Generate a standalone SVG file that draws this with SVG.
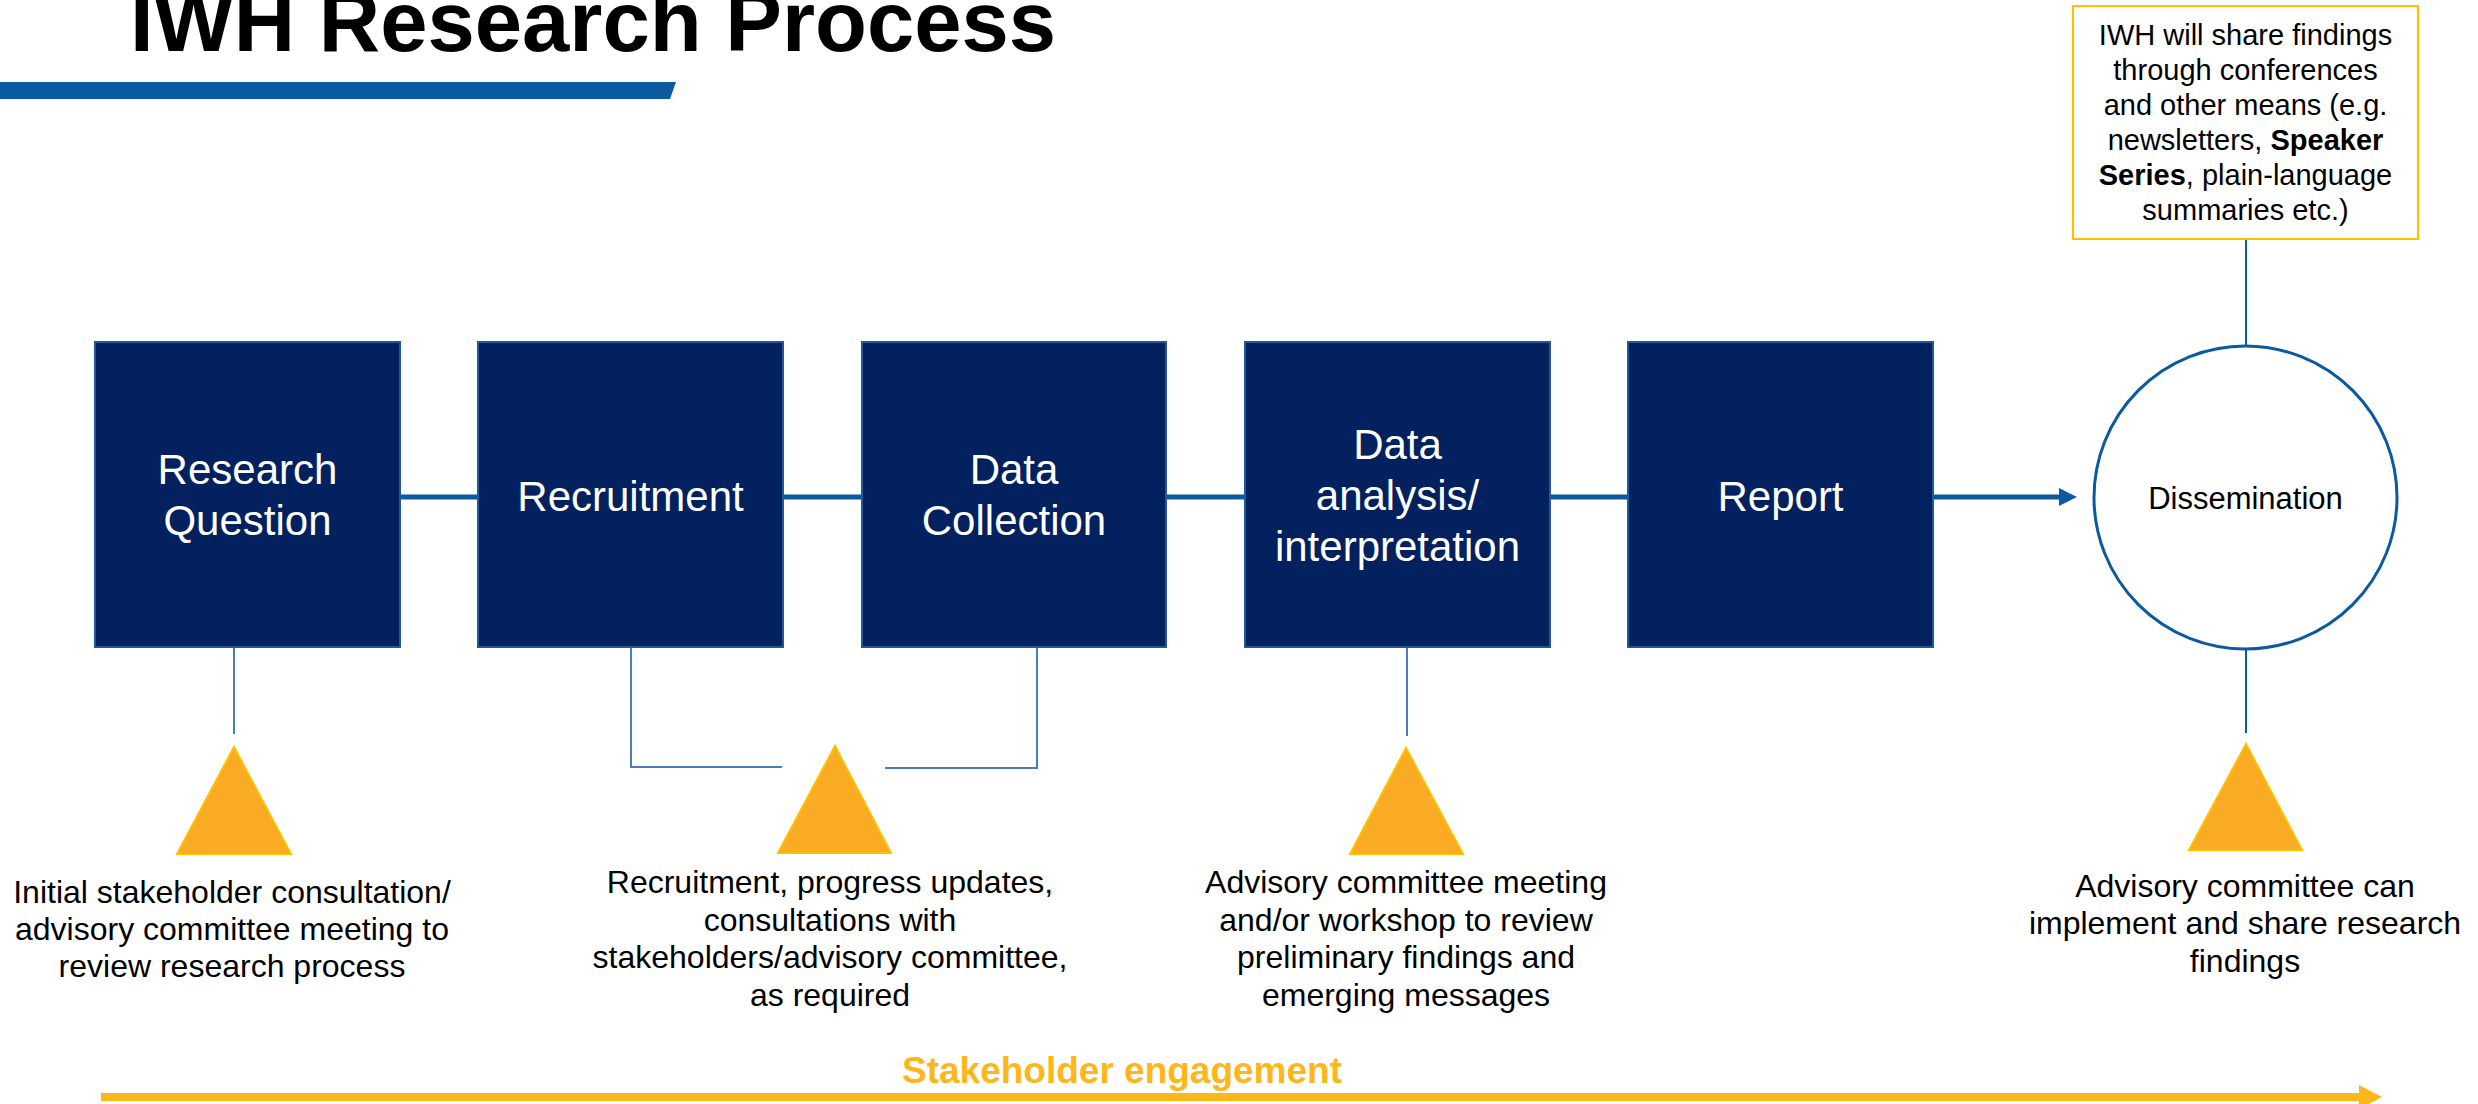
<svg xmlns="http://www.w3.org/2000/svg" width="2478" height="1104" viewBox="0 0 2478 1104">
<style>
.box{fill:#02215E;stroke:#1F5A96;stroke-width:2}
.bt{font-family:"Liberation Sans",Arial,sans-serif;font-size:42px;fill:#FFFFFF;text-anchor:middle}
.desc{font-family:"Liberation Sans",Arial,sans-serif;font-size:32px;fill:#000000;text-anchor:middle}
.note{font-family:"Liberation Sans",Arial,sans-serif;font-size:29px;fill:#000000;text-anchor:middle}
.tri{fill:#F9AC23;stroke:#FFC000;stroke-width:2}
.main{stroke:#0B5AA0;stroke-width:5;fill:none}
.thin{stroke:#4A7EBB;stroke-width:2;fill:none}
.thind{stroke:#0B5AA0;stroke-width:2;fill:none}
</style>
<defs>
<marker id="blueHead" markerUnits="userSpaceOnUse" viewBox="0 0 18 18" refX="6" refY="9" markerWidth="18" markerHeight="18" orient="auto">
<path d="M0,0 L18,9 L0,18 z" fill="#0B5AA0"/>
</marker>
<marker id="yellowHead" markerUnits="userSpaceOnUse" viewBox="0 0 23 24" refX="6" refY="12" markerWidth="23" markerHeight="24" orient="auto">
<path d="M0,0 L23,12 L0,24 z" fill="#FDB71A"/>
</marker>
</defs>
<rect width="2478" height="1104" fill="#FFFFFF"/>
<g id="title">
<text x="130" y="51" font-family="'Liberation Sans',Arial,sans-serif" font-size="85" font-weight="bold" fill="#000000">IWH Research Process</text>
<polygon points="0,82 676,82 670,99 0,99" fill="#0B5AA0"/>
</g>
<g id="connectors">
<line class="main" x1="400" y1="497" x2="478" y2="497"/>
<line class="main" x1="783" y1="497" x2="862" y2="497"/>
<line class="main" x1="1166" y1="497" x2="1245" y2="497"/>
<line class="main" x1="1550" y1="497" x2="1628" y2="497"/>
<line class="main" x1="1933" y1="497" x2="2065" y2="497" marker-end="url(#blueHead)"/>
<line class="thin" x1="234" y1="647" x2="234" y2="734"/>
<polyline class="thin" points="631,647 631,767 782,767"/>
<polyline class="thin" points="1037,647 1037,768 885,768"/>
<line class="thin" x1="1407" y1="647" x2="1407" y2="736"/>
<line class="thind" x1="2246" y1="239" x2="2246" y2="346"/>
<line class="thind" x1="2246" y1="649" x2="2246" y2="733"/>
<line x1="101" y1="1097" x2="2365" y2="1097" stroke="#FDB71A" stroke-width="8" marker-end="url(#yellowHead)"/>
</g>
<g id="n-research-question">
<rect class="box" x="95" y="342" width="305" height="305"/>
<text class="bt" x="247.5" y="484">Research</text>
<text class="bt" x="247.5" y="535">Question</text>
</g>
<g id="n-recruitment">
<rect class="box" x="478" y="342" width="305" height="305"/>
<text class="bt" x="630.5" y="511">Recruitment</text>
</g>
<g id="n-data-collection">
<rect class="box" x="862" y="342" width="304" height="305"/>
<text class="bt" x="1014" y="484">Data</text>
<text class="bt" x="1014" y="535">Collection</text>
</g>
<g id="n-data-analysis">
<rect class="box" x="1245" y="342" width="305" height="305"/>
<text class="bt" x="1397.5" y="459">Data</text>
<text class="bt" x="1397.5" y="510">analysis/</text>
<text class="bt" x="1397.5" y="561">interpretation</text>
</g>
<g id="n-report">
<rect class="box" x="1628" y="342" width="305" height="305"/>
<text class="bt" x="1780.5" y="511">Report</text>
</g>
<g id="n-dissemination">
<circle cx="2245.5" cy="497.5" r="151.5" fill="#FFFFFF" stroke="#0B5AA0" stroke-width="3"/>
<text x="2245.5" y="509" font-family="'Liberation Sans',Arial,sans-serif" font-size="31" fill="#000000" text-anchor="middle">Dissemination</text>
</g>
<g id="n-share-note">
<rect x="2073" y="6" width="345" height="233" fill="#FFFFFF" stroke="#FFC000" stroke-width="2"/>
<text class="note" x="2245.5" y="45">IWH will share findings</text>
<text class="note" x="2245.5" y="80">through conferences</text>
<text class="note" x="2245.5" y="115">and other means (e.g.</text>
<text class="note" x="2245.5" y="150">newsletters, <tspan font-weight="bold">Speaker</tspan></text>
<text class="note" x="2245.5" y="185"><tspan font-weight="bold">Series</tspan>, plain-language</text>
<text class="note" x="2245.5" y="220">summaries etc.)</text>
</g>
<g id="n-engage-1">
<polygon class="tri" points="234,747 177,854 291,854"/>
<text class="desc" x="232" y="903">Initial stakeholder consultation/</text>
<text class="desc" x="232" y="940">advisory committee meeting to</text>
<text class="desc" x="232" y="977">review research process</text>
</g>
<g id="n-engage-2">
<polygon class="tri" points="835,746 778,853 891,853"/>
<text class="desc" x="830" y="893">Recruitment, progress updates,</text>
<text class="desc" x="830" y="931">consultations with</text>
<text class="desc" x="830" y="968">stakeholders/advisory committee,</text>
<text class="desc" x="830" y="1006">as required</text>
</g>
<g id="n-engage-3">
<polygon class="tri" points="1406,748 1350,854 1463,854"/>
<text class="desc" x="1406" y="893">Advisory committee meeting</text>
<text class="desc" x="1406" y="931">and/or workshop to review</text>
<text class="desc" x="1406" y="968">preliminary findings and</text>
<text class="desc" x="1406" y="1006">emerging messages</text>
</g>
<g id="n-engage-4">
<polygon class="tri" points="2246,744 2189,850 2302,850"/>
<text class="desc" x="2245" y="897">Advisory committee can</text>
<text class="desc" x="2245" y="934">implement and share research</text>
<text class="desc" x="2245" y="972">findings</text>
</g>
<g id="n-stakeholder-engagement">
<text x="1122" y="1083" font-family="'Liberation Sans',Arial,sans-serif" font-size="37" font-weight="bold" fill="#FDB71A" text-anchor="middle">Stakeholder engagement</text>
</g>
</svg>
